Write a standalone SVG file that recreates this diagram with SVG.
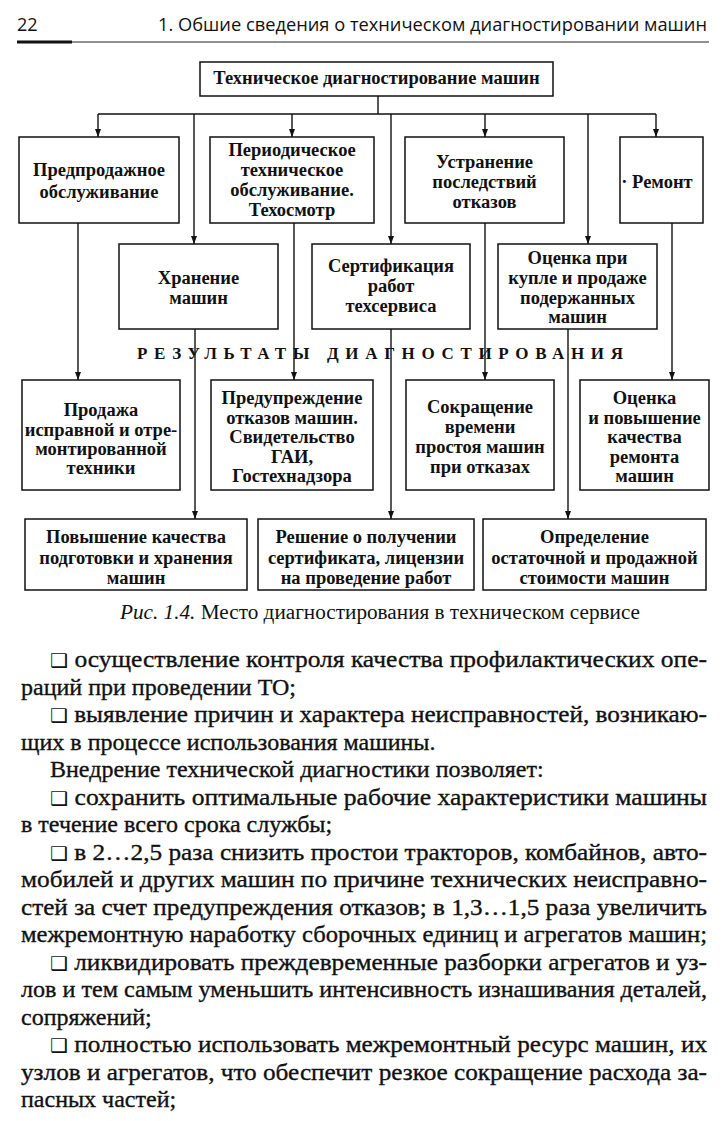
<svg xmlns="http://www.w3.org/2000/svg" width="727" height="1121" viewBox="0 0 727 1121">
<style>
.bg{fill:#fff}
.box{fill:#fff;stroke:#111;stroke-width:1.5}
.t{font-family:"Liberation Serif","Times New Roman",serif;font-weight:bold;font-size:18.5px;fill:#111;text-anchor:middle}
.res{font-family:"Liberation Serif","Times New Roman",serif;font-weight:bold;font-size:17px;fill:#111}
.hdr{font-family:"Open Sans","Liberation Sans",sans-serif;font-size:18px;fill:#111}
.cap{font-family:"Liberation Serif","Times New Roman",serif;font-size:20px;fill:#111}
.body{font-family:"Liberation Serif","Times New Roman",serif;font-size:24px;fill:#111;stroke:#111;stroke-width:0.35}
.sq{font-family:"DejaVu Sans",sans-serif;font-size:19px;stroke-width:0}
.ln{fill:none;stroke:#111;stroke-width:1.4}
</style>
<defs>
<marker id="ah" viewBox="0 0 8 6" refX="8" refY="3" markerWidth="8" markerHeight="6" markerUnits="userSpaceOnUse" orient="auto">
<path d="M0,0 L8,3 L0,6 z" fill="#111"/>
</marker>
</defs>
<rect class="bg" x="0" y="0" width="727" height="1121"/>

<g id="header">
<text class="hdr" x="17" y="31">22</text>
<text class="hdr" x="158" y="31" textLength="549" lengthAdjust="spacingAndGlyphs">1. Обшие сведения о техническом диагностировании машин</text>
<line x1="17" y1="42" x2="709" y2="42" stroke="#222" stroke-width="1"/>
<line x1="17" y1="42" x2="72" y2="42" stroke="#111" stroke-width="3"/>
</g>

<g id="connectors">
<path class="ln" d="M378 96 V114 M98 114 H656"/>
<path class="ln" d="M98 114 V137" marker-end="url(#ah)"/>
<path class="ln" d="M194 114 V244" marker-end="url(#ah)"/>
<path class="ln" d="M292 114 V137" marker-end="url(#ah)"/>
<path class="ln" d="M391 114 V244" marker-end="url(#ah)"/>
<path class="ln" d="M485 114 V137" marker-end="url(#ah)"/>
<path class="ln" d="M588 114 V244" marker-end="url(#ah)"/>
<path class="ln" d="M656 114 V137" marker-end="url(#ah)"/>
<path class="ln" d="M78 223 V380" marker-end="url(#ah)"/>
<path class="ln" d="M195 329 V519" marker-end="url(#ah)"/>
<path class="ln" d="M294 223 V380" marker-end="url(#ah)"/>
<path class="ln" d="M391 329 V519" marker-end="url(#ah)"/>
<path class="ln" d="M485 223 V380" marker-end="url(#ah)"/>
<path class="ln" d="M568 329 V519" marker-end="url(#ah)"/>
<path class="ln" d="M672 223 V380" marker-end="url(#ah)"/>
</g>

<g id="n-top">
<rect class="box" x="200" y="62" width="353" height="34"/>
<text class="t" x="376.5" y="84">Техническое диагностирование машин</text>
</g>

<g id="n-predprod">
<rect class="box" x="19" y="137" width="160" height="86"/>
<text class="t" x="99" y="176">Предпродажное</text>
<text class="t" x="99" y="198">обслуживание</text>
</g>
<g id="n-period">
<rect class="box" x="210" y="137" width="164" height="86"/>
<text class="t" x="292" y="156">Периодическое</text>
<text class="t" x="292" y="176">техническое</text>
<text class="t" x="292" y="196">обслуживание.</text>
<text class="t" x="292" y="216">Техосмотр</text>
</g>
<g id="n-ustr">
<rect class="box" x="405" y="137" width="159" height="86"/>
<text class="t" x="484.5" y="168">Устранение</text>
<text class="t" x="484.5" y="188">последствий</text>
<text class="t" x="484.5" y="208">отказов</text>
</g>
<g id="n-remont">
<rect class="box" x="620" y="137" width="83" height="86"/>
<text class="t" x="657" y="188">· Ремонт</text>
</g>

<g id="n-hran">
<rect class="box" x="119" y="244" width="159" height="85"/>
<text class="t" x="198.5" y="284">Хранение</text>
<text class="t" x="198.5" y="304">машин</text>
</g>
<g id="n-sert">
<rect class="box" x="312" y="244" width="158" height="85"/>
<text class="t" x="391" y="272">Сертификация</text>
<text class="t" x="391" y="292">работ</text>
<text class="t" x="391" y="312">техсервиса</text>
</g>
<g id="n-ocenka1">
<rect class="box" x="498" y="244" width="159" height="85"/>
<text class="t" x="577.5" y="264">Оценка при</text>
<text class="t" x="577.5" y="284">купле и продаже</text>
<text class="t" x="577.5" y="304">подержанных</text>
<text class="t" x="577.5" y="323">машин</text>
</g>

<g id="results-label">
<text class="res" x="137" y="359" textLength="486" lengthAdjust="spacing">РЕЗУЛЬТАТЫ ДИАГНОСТИРОВАНИЯ</text>
</g>

<g id="n-prodazha">
<rect class="box" x="22" y="380" width="158" height="110"/>
<text class="t" x="101" y="416">Продажа</text>
<text class="t" x="101" y="436">исправной и отре-</text>
<text class="t" x="101" y="455">монтированной</text>
<text class="t" x="101" y="474">техники</text>
</g>
<g id="n-preduprezh">
<rect class="box" x="211" y="380" width="162" height="110"/>
<text class="t" x="292" y="404">Предупреждение</text>
<text class="t" x="292" y="424">отказов машин.</text>
<text class="t" x="292" y="443">Свидетельство</text>
<text class="t" x="292" y="463">ГАИ,</text>
<text class="t" x="292" y="482">Гостехнадзора</text>
</g>
<g id="n-sokr">
<rect class="box" x="406" y="380" width="148" height="110"/>
<text class="t" x="480" y="413">Сокращение</text>
<text class="t" x="480" y="433">времени</text>
<text class="t" x="480" y="453">простоя машин</text>
<text class="t" x="480" y="473">при отказах</text>
</g>
<g id="n-ocenka2">
<rect class="box" x="580" y="380" width="129" height="110"/>
<text class="t" x="644.5" y="404">Оценка</text>
<text class="t" x="644.5" y="424">и повышение</text>
<text class="t" x="644.5" y="443">качества</text>
<text class="t" x="644.5" y="463">ремонта</text>
<text class="t" x="644.5" y="482">машин</text>
</g>

<g id="n-povysh">
<rect class="box" x="25" y="519" width="222" height="71"/>
<text class="t" x="136" y="543">Повышение качества</text>
<text class="t" x="136" y="564">подготовки и хранения</text>
<text class="t" x="136" y="584">машин</text>
</g>
<g id="n-reshenie">
<rect class="box" x="258" y="519" width="216" height="71"/>
<text class="t" x="366" y="543">Решение о получении</text>
<text class="t" x="366" y="564">сертификата, лицензии</text>
<text class="t" x="366" y="584">на проведение работ</text>
</g>
<g id="n-opred">
<rect class="box" x="483" y="519" width="223" height="71"/>
<text class="t" x="594.5" y="543">Определение</text>
<text class="t" x="594.5" y="564">остаточной и продажной</text>
<text class="t" x="594.5" y="584">стоимости машин</text>
</g>

<g id="caption">
<text class="cap" x="120" y="619" textLength="520" lengthAdjust="spacingAndGlyphs"><tspan font-style="italic">Рис. 1.4.</tspan> Место диагностирования в техническом сервисе</text>
</g>

<g id="body">
<text class="body" x="50" y="667" textLength="657" lengthAdjust="spacingAndGlyphs"><tspan class="sq">❑</tspan> осуществление контроля качества профилактических опе-</text>
<text class="body" x="21" y="694.5">раций при проведении ТО;</text>
<text class="body" x="50" y="722" textLength="657" lengthAdjust="spacingAndGlyphs"><tspan class="sq">❑</tspan> выявление причин и характера неисправностей, возникаю-</text>
<text class="body" x="21" y="749.5">щих в процессе использования машины.</text>
<text class="body" x="50" y="777">Внедрение технической диагностики позволяет:</text>
<text class="body" x="50" y="804.5" textLength="657" lengthAdjust="spacingAndGlyphs"><tspan class="sq">❑</tspan> сохранить оптимальные рабочие характеристики машины</text>
<text class="body" x="21" y="832">в течение всего срока службы;</text>
<text class="body" x="50" y="859.5" textLength="657" lengthAdjust="spacingAndGlyphs"><tspan class="sq">❑</tspan> в 2…2,5 раза снизить простои тракторов, комбайнов, авто-</text>
<text class="body" x="21" y="887" textLength="686" lengthAdjust="spacingAndGlyphs">мобилей и других машин по причине технических неисправно-</text>
<text class="body" x="21" y="914.5" textLength="686" lengthAdjust="spacingAndGlyphs">стей за счет предупреждения отказов; в 1,3…1,5 раза увеличить</text>
<text class="body" x="21" y="942" textLength="686" lengthAdjust="spacingAndGlyphs">межремонтную наработку сборочных единиц и агрегатов машин;</text>
<text class="body" x="50" y="969.5" textLength="657" lengthAdjust="spacingAndGlyphs"><tspan class="sq">❑</tspan> ликвидировать преждевременные разборки агрегатов и уз-</text>
<text class="body" x="21" y="997" textLength="686" lengthAdjust="spacingAndGlyphs">лов и тем самым уменьшить интенсивность изнашивания деталей,</text>
<text class="body" x="21" y="1024.5">сопряжений;</text>
<text class="body" x="50" y="1052" textLength="657" lengthAdjust="spacingAndGlyphs"><tspan class="sq">❑</tspan> полностью использовать межремонтный ресурс машин, их</text>
<text class="body" x="21" y="1079.5" textLength="686" lengthAdjust="spacingAndGlyphs">узлов и агрегатов, что обеспечит резкое сокращение расхода за-</text>
<text class="body" x="21" y="1107">пасных частей;</text>
</g>
</svg>
